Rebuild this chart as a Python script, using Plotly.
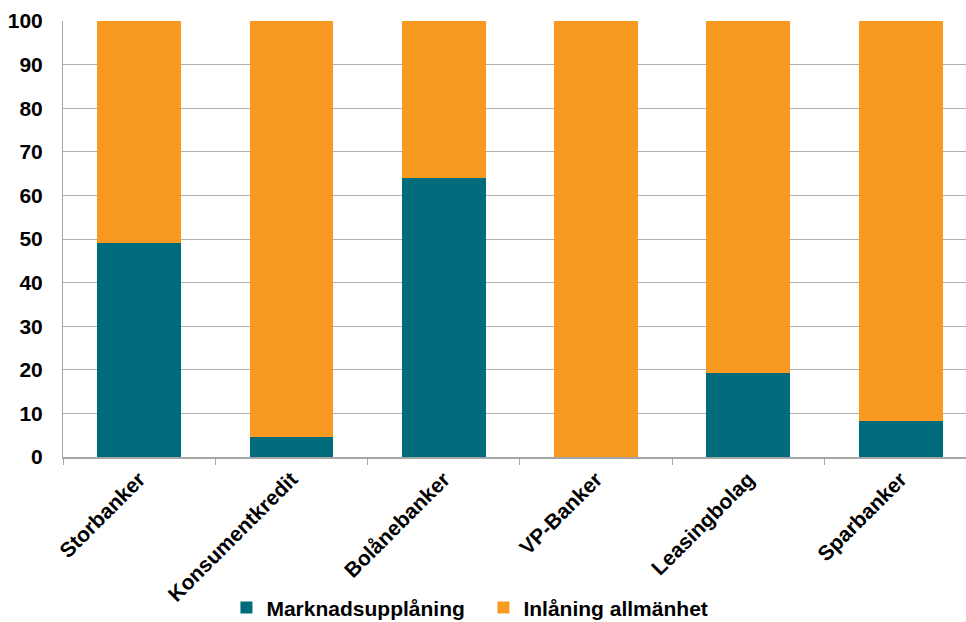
import plotly.graph_objects as go

categories = ["Storbanker", "Konsumentkredit", "Bolånebanker", "VP-Banker", "Leasingbolag", "Sparbanker"]
marknad = [49, 4.6, 64, 0, 19.3, 8.3]
inlaning = [51, 95.4, 36, 100, 80.7, 91.7]
yticks = [0, 10, 20, 30, 40, 50, 60, 70, 80, 90, 100]

teal = "#006b7b"
orange = "#f89a22"
font = "Liberation Sans, Arial, sans-serif"

fig = go.Figure()
fig.add_trace(go.Bar(x=categories, y=marknad, name="Marknadsupplåning",
                     marker=dict(color=teal, line=dict(width=0)), width=0.55))
fig.add_trace(go.Bar(x=categories, y=inlaning, name="Inlåning allmänhet",
                     marker=dict(color=orange, line=dict(width=0)), width=0.55))

fig.update_layout(
    barmode="stack",
    width=966, height=622,
    margin=dict(l=63, r=0, t=21, b=165, autoexpand=False),
    plot_bgcolor="white", paper_bgcolor="white",
    font=dict(family=font, color="black"),
    showlegend=True,
    legend=dict(orientation="h", x=0.181, xanchor="left", y=-0.346, yanchor="middle",
                font=dict(size=21, family=font, color="black", weight="bold"),
                itemwidth=30, tracegroupgap=0, traceorder="normal",
                entrywidth=212),
    xaxis=dict(
        type="category", range=[-0.5, 5.429], automargin=False,
        showline=True, linecolor="#a6a6a6", linewidth=1.5,
        ticks="outside", tickson="boundaries", ticklen=6, tickcolor="#a6a6a6", tickwidth=1,
        tickangle=-45,
        tickfont=dict(size=21, family=font, color="black", weight="bold"),
        showgrid=False,
    ),
    yaxis=dict(
        range=[0, 100], tickvals=yticks, ticktext=[str(v) for v in yticks],
        showline=True, linecolor="#a6a6a6", linewidth=1, automargin=False,
        showgrid=True, gridcolor="#b0b0b0", gridwidth=1,
        ticks="", ticklabelstandoff=15,
        tickfont=dict(size=21, family=font, color="black", weight="bold"),
        zeroline=False,
    ),
)

fig.write_html("out.html")
